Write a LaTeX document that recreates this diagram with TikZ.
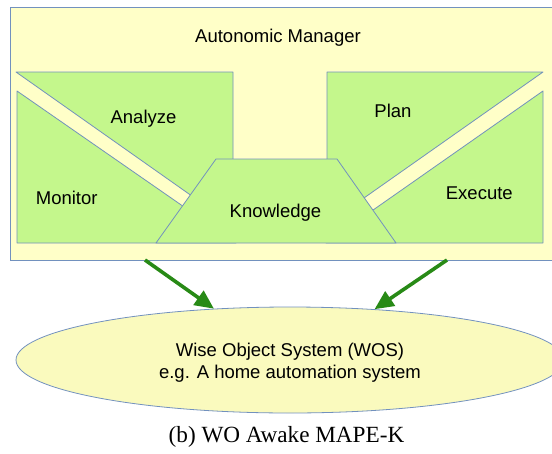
\documentclass[tikz,border=0pt]{standalone}
\usepackage{fontspec}
\setmainfont{Liberation Sans}
\newfontfamily\captionserif{Liberation Serif}
\usepackage{tikz}
\usetikzlibrary{positioning}
\usetikzlibrary{shapes,arrows,arrows.meta}

\definecolor{mgrfill}{RGB}{255,255,200}
\definecolor{phasefill}{RGB}{196,247,140}
\definecolor{edgeblue}{RGB}{114,145,190}
\definecolor{arrowgreen}{RGB}{40,138,22}
\definecolor{wosfill}{RGB}{250,250,190}

\tikzset{
	phase/.style={draw=edgeblue, line width=0.8pt, fill=phasefill, line join=round},
	lbl/.style={font=\fontsize{18.5}{21.6}\selectfont, inner sep=0pt, anchor=base},
	flow/.style={arrowgreen, line width=3.6pt, -{Triangle[length=19pt,width=17pt]}}
}

\begin{document}
\begin{tikzpicture}[x=1pt, y=-1pt]
		\clip (0,0) rectangle (552,453);

		% Autonomic manager
		\draw [draw=edgeblue, line width=0.8pt, fill=mgrfill] (10,7) rectangle (600,260);
		\node [lbl] (mgr) at (278,42) {Autonomic Manager};

		% Analyze
		\draw [phase] (16,72) -- (233,72) -- (233,225) -- cycle;
		\node [lbl] (analyze) at (143.5,123) {Analyze};

		% Monitor
		\draw [phase] (17,91) -- (236,243) -- (17,243) -- cycle;
		\node [lbl] (monitor) at (66.7,204.3) {Monitor};

		% Plan
		\draw [phase] (543,72) -- (327,72) -- (327,224) -- cycle;
		\node [lbl] (plan) at (393,117.3) {Plan};

		% Execute
		\draw [phase] (543,91) -- (326,243) -- (543,243) -- cycle;
		\node [lbl] (execute) at (479.3,199) {Execute};

		% Knowledge
		\draw [phase] (216,159) -- (337,159) -- (396,243) -- (156,243) -- cycle;
		\node [lbl] (knowledge) at (275.5,217) {Knowledge};

		% Managed system
		\node [draw=edgeblue, line width=0.8pt, fill=wosfill, ellipse, inner sep=0pt,
			minimum width=548pt, minimum height=106pt] (wos) at (290,360) {};
		\node [lbl, anchor=center, align=center] (wostext) at (290,363)
			{Wise Object System (WOS)\\e.g. A home automation system};

		% Effectors
		\coordinate (fromA) at (145,260);
		\coordinate (fromE) at (447,260);
		\draw [flow] (fromA) -- (wos.146);
		\draw [flow] (fromE) -- (wos.31);

		% Caption
		\node [font=\captionserif\fontsize{23.2}{27}\selectfont, inner sep=0pt, anchor=base]
			(caption) at (286.5,442.7) {(b) WO Awake MAPE-K};
	\end{tikzpicture}
\end{document}
